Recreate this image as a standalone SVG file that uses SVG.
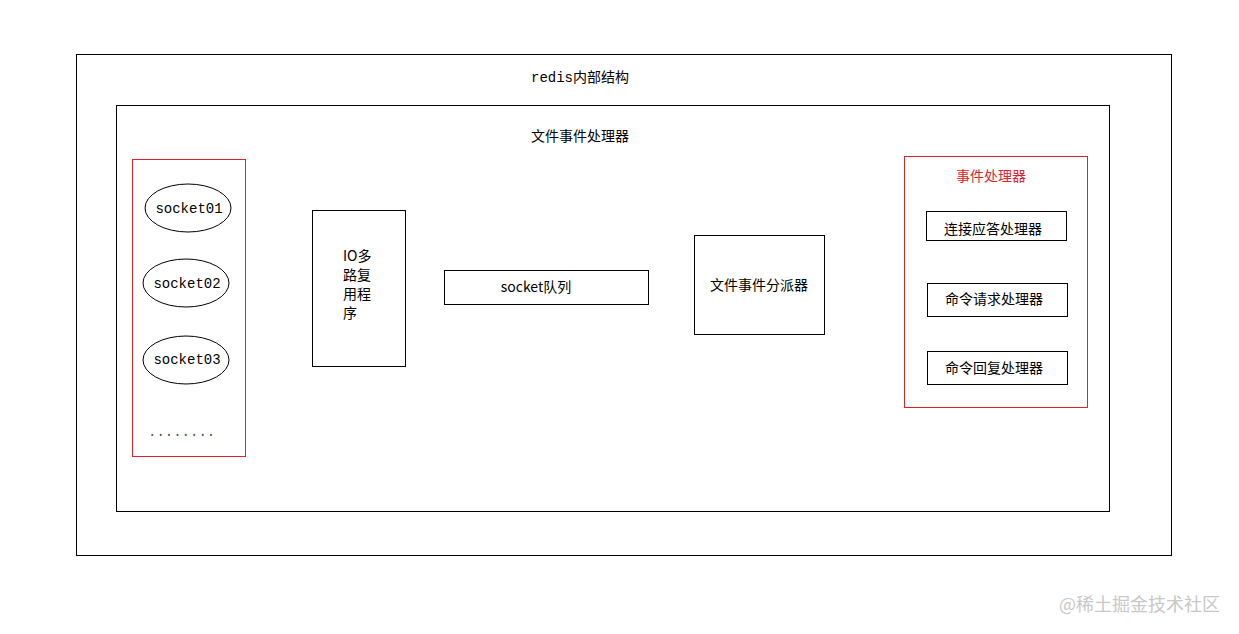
<svg xmlns="http://www.w3.org/2000/svg" width="1239" height="634" viewBox="0 0 1239 634">
<style>
.b{fill:none;stroke:#000;stroke-width:1}
.r{fill:none;stroke:#d9232d;stroke-width:1}
text{font-family:"Liberation Mono","Noto Sans CJK SC",monospace;font-size:14px;fill:#000}
.c{font-family:"Noto Sans CJK SC","Liberation Sans",sans-serif}
</style>
<rect width="1239" height="634" fill="#fff"/>
<g id="redis"><rect class="b" x="76.5" y="54.5" width="1095" height="501"/><text x="580" y="82" text-anchor="middle">redis内部结构</text></g>
<g id="fileproc"><rect class="b" x="116.5" y="105.5" width="993" height="406"/><text class="c" x="580" y="141" text-anchor="middle">文件事件处理器</text></g>
<g id="sockets"><rect class="r" x="132.5" y="159.5" width="113" height="297"/>
<text x="148" y="436" style="fill:#555">........</text></g>
<g id="s1"><ellipse class="b" cx="188" cy="208" rx="43" ry="24"/><text x="189" y="213" text-anchor="middle">socket01</text></g>
<g id="s2"><ellipse class="b" cx="186" cy="283" rx="43" ry="24"/><text x="187" y="288" text-anchor="middle">socket02</text></g>
<g id="s3"><ellipse class="b" cx="186" cy="360" rx="43" ry="24"/><text x="187" y="364" text-anchor="middle">socket03</text></g>
<g id="io"><rect class="b" x="312.5" y="210.5" width="93" height="156"/>
<text class="c" x="343" y="261">IO多</text><text class="c" x="343" y="280">路复</text><text class="c" x="343" y="299">用程</text><text class="c" x="343" y="318">序</text></g>
<g id="queue"><rect class="b" x="444.5" y="270.5" width="204" height="34"/><text class="c" x="536" y="292" text-anchor="middle">socket队列</text></g>
<g id="dispatch"><rect class="b" x="694.5" y="235.5" width="130" height="99"/><text class="c" x="759" y="290" text-anchor="middle">文件事件分派器</text></g>
<g id="handlers"><rect class="r" x="904.5" y="156.5" width="183" height="251"/><text class="c" x="991" y="181" text-anchor="middle" style="fill:#e0242c">事件处理器</text></g>
<g id="h1"><rect class="b" x="926.5" y="211.5" width="140" height="29"/><text class="c" x="993" y="234" text-anchor="middle">连接应答处理器</text></g>
<g id="h2"><rect class="b" x="927.5" y="283.5" width="140" height="33"/><text class="c" x="994" y="304" text-anchor="middle">命令请求处理器</text></g>
<g id="h3"><rect class="b" x="927.5" y="351.5" width="140" height="33"/><text class="c" x="994" y="373" text-anchor="middle">命令回复处理器</text></g>
<g id="connectors"></g>
<text class="c" x="1220" y="611" text-anchor="end" style="font-size:18px;fill:#c8c8c8">@稀土掘金技术社区</text>
</svg>
